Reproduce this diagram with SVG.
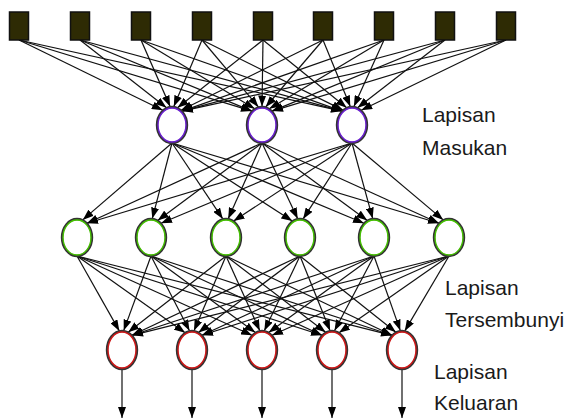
<svg xmlns="http://www.w3.org/2000/svg" width="570" height="420" viewBox="0 0 570 420">
<style>
.sq{fill:#2e2b04;stroke:#111;stroke-width:1.5}
.ring{fill:#fff;stroke:#333;stroke-width:2.4}
.in{fill:none;stroke:#6a1fd0;stroke-width:1.4}
.hid{fill:none;stroke:#44c000;stroke-width:1.4}
.out{fill:none;stroke:#d01818;stroke-width:1.4}
#edges line{stroke:#111;stroke-width:1.2;marker-end:url(#ah)}
.lbl{font-family:"Liberation Sans",Arial,sans-serif;font-size:21px;fill:#1a1a1a}
</style>
<defs>
<marker id="ah" markerUnits="userSpaceOnUse" markerWidth="11" markerHeight="8" refX="11" refY="4" orient="auto">
<path d="M0,0 L11,4 L0,8 z" fill="#000"/>
</marker>
</defs>
<rect width="570" height="420" fill="#fff"/>
<g id="edges">
<line x1="19" y1="40" x2="162.8" y2="110.3"/>
<line x1="80" y1="40" x2="166.5" y2="107.8"/>
<line x1="141" y1="40" x2="170.1" y2="106.6"/>
<line x1="202" y1="40" x2="173.8" y2="106.6"/>
<line x1="263" y1="40" x2="177.5" y2="107.8"/>
<line x1="323" y1="40" x2="181.1" y2="110.2"/>
<line x1="384" y1="40" x2="182" y2="111.1"/>
<line x1="445" y1="40" x2="182" y2="111.1"/>
<line x1="506" y1="40" x2="182" y2="111.1"/>
<line x1="19" y1="40" x2="252" y2="111.1"/>
<line x1="80" y1="40" x2="252" y2="111.1"/>
<line x1="141" y1="40" x2="254.7" y2="108.8"/>
<line x1="202" y1="40" x2="258.4" y2="107"/>
<line x1="263" y1="40" x2="262" y2="106.5"/>
<line x1="323" y1="40" x2="265.7" y2="107"/>
<line x1="384" y1="40" x2="269.3" y2="108.8"/>
<line x1="445" y1="40" x2="272" y2="111.1"/>
<line x1="506" y1="40" x2="272" y2="111.1"/>
<line x1="19" y1="40" x2="342" y2="111.1"/>
<line x1="80" y1="40" x2="342" y2="111.1"/>
<line x1="141" y1="40" x2="342" y2="111.1"/>
<line x1="202" y1="40" x2="343" y2="110.1"/>
<line x1="263" y1="40" x2="346.7" y2="107.7"/>
<line x1="323" y1="40" x2="350.3" y2="106.6"/>
<line x1="384" y1="40" x2="353.9" y2="106.6"/>
<line x1="445" y1="40" x2="357.6" y2="107.8"/>
<line x1="506" y1="40" x2="361.2" y2="110.3"/>
<line x1="172" y1="143" x2="82.7" y2="219.9"/>
<line x1="172" y1="143" x2="152.3" y2="218.6"/>
<line x1="172" y1="143" x2="222.8" y2="218.9"/>
<line x1="172" y1="143" x2="292.3" y2="221.1"/>
<line x1="172" y1="143" x2="364" y2="223.2"/>
<line x1="172" y1="143" x2="439" y2="223.2"/>
<line x1="262" y1="143" x2="87" y2="223.2"/>
<line x1="262" y1="143" x2="157.7" y2="220.4"/>
<line x1="262" y1="143" x2="228.2" y2="218.7"/>
<line x1="262" y1="143" x2="297.7" y2="218.7"/>
<line x1="262" y1="143" x2="367.3" y2="220.4"/>
<line x1="262" y1="143" x2="439" y2="223.2"/>
<line x1="352" y1="143" x2="87" y2="223.2"/>
<line x1="352" y1="143" x2="161" y2="223.2"/>
<line x1="352" y1="143" x2="233.6" y2="221.1"/>
<line x1="352" y1="143" x2="303.1" y2="218.9"/>
<line x1="352" y1="143" x2="372.7" y2="218.6"/>
<line x1="352" y1="143" x2="443.2" y2="219.9"/>
<line x1="77" y1="256" x2="119.3" y2="330.9"/>
<line x1="77" y1="256" x2="185.1" y2="332.7"/>
<line x1="77" y1="256" x2="252" y2="335.3"/>
<line x1="77" y1="256" x2="322" y2="335.3"/>
<line x1="77" y1="256" x2="392" y2="335.3"/>
<line x1="151" y1="256" x2="123.7" y2="330.6"/>
<line x1="151" y1="256" x2="189.5" y2="330.8"/>
<line x1="151" y1="256" x2="255.3" y2="332.5"/>
<line x1="151" y1="256" x2="322" y2="335.3"/>
<line x1="151" y1="256" x2="392" y2="335.3"/>
<line x1="226" y1="256" x2="128.2" y2="332.2"/>
<line x1="226" y1="256" x2="194" y2="330.7"/>
<line x1="226" y1="256" x2="259.8" y2="330.7"/>
<line x1="226" y1="256" x2="325.6" y2="332.3"/>
<line x1="226" y1="256" x2="392" y2="335.3"/>
<line x1="300" y1="256" x2="132" y2="335.3"/>
<line x1="300" y1="256" x2="198.5" y2="332.4"/>
<line x1="300" y1="256" x2="264.3" y2="330.8"/>
<line x1="300" y1="256" x2="330.1" y2="330.7"/>
<line x1="300" y1="256" x2="395.9" y2="332.2"/>
<line x1="374" y1="256" x2="132" y2="335.3"/>
<line x1="374" y1="256" x2="202" y2="335.3"/>
<line x1="374" y1="256" x2="268.7" y2="332.5"/>
<line x1="374" y1="256" x2="334.5" y2="330.8"/>
<line x1="374" y1="256" x2="400.3" y2="330.6"/>
<line x1="449" y1="256" x2="132" y2="335.3"/>
<line x1="449" y1="256" x2="202" y2="335.3"/>
<line x1="449" y1="256" x2="272" y2="335.3"/>
<line x1="449" y1="256" x2="339" y2="332.7"/>
<line x1="449" y1="256" x2="404.8" y2="330.9"/>
<line x1="122" y1="369" x2="122" y2="418"/>
<line x1="192" y1="369" x2="192" y2="418"/>
<line x1="262" y1="369" x2="262" y2="418"/>
<line x1="332" y1="369" x2="332" y2="418"/>
<line x1="402" y1="369" x2="402" y2="418"/>
</g>
<g id="src1"><rect class="sq" x="9.5" y="12" width="19" height="28"/></g>
<g id="src2"><rect class="sq" x="70.5" y="12" width="19" height="28"/></g>
<g id="src3"><rect class="sq" x="131.5" y="12" width="19" height="28"/></g>
<g id="src4"><rect class="sq" x="192.5" y="12" width="19" height="28"/></g>
<g id="src5"><rect class="sq" x="253.5" y="12" width="19" height="28"/></g>
<g id="src6"><rect class="sq" x="313.5" y="12" width="19" height="28"/></g>
<g id="src7"><rect class="sq" x="374.5" y="12" width="19" height="28"/></g>
<g id="src8"><rect class="sq" x="435.5" y="12" width="19" height="28"/></g>
<g id="src9"><rect class="sq" x="496.5" y="12" width="19" height="28"/></g>
<g id="in1"><ellipse class="ring" cx="172" cy="125" rx="15" ry="18"/><ellipse class="in" cx="172" cy="125" rx="14" ry="17"/></g>
<g id="in2"><ellipse class="ring" cx="262" cy="125" rx="15" ry="18"/><ellipse class="in" cx="262" cy="125" rx="14" ry="17"/></g>
<g id="in3"><ellipse class="ring" cx="352" cy="125" rx="15" ry="18"/><ellipse class="in" cx="352" cy="125" rx="14" ry="17"/></g>
<g id="hid1"><ellipse class="ring" cx="77" cy="237.5" rx="15" ry="18.5"/><ellipse class="hid" cx="77" cy="237.5" rx="14" ry="17.5"/></g>
<g id="hid2"><ellipse class="ring" cx="151" cy="237.5" rx="15" ry="18.5"/><ellipse class="hid" cx="151" cy="237.5" rx="14" ry="17.5"/></g>
<g id="hid3"><ellipse class="ring" cx="226" cy="237.5" rx="15" ry="18.5"/><ellipse class="hid" cx="226" cy="237.5" rx="14" ry="17.5"/></g>
<g id="hid4"><ellipse class="ring" cx="300" cy="237.5" rx="15" ry="18.5"/><ellipse class="hid" cx="300" cy="237.5" rx="14" ry="17.5"/></g>
<g id="hid5"><ellipse class="ring" cx="374" cy="237.5" rx="15" ry="18.5"/><ellipse class="hid" cx="374" cy="237.5" rx="14" ry="17.5"/></g>
<g id="hid6"><ellipse class="ring" cx="449" cy="237.5" rx="15" ry="18.5"/><ellipse class="hid" cx="449" cy="237.5" rx="14" ry="17.5"/></g>
<g id="out1"><ellipse class="ring" cx="122" cy="350" rx="15" ry="19"/><ellipse class="out" cx="122" cy="350" rx="14" ry="18"/></g>
<g id="out2"><ellipse class="ring" cx="192" cy="350" rx="15" ry="19"/><ellipse class="out" cx="192" cy="350" rx="14" ry="18"/></g>
<g id="out3"><ellipse class="ring" cx="262" cy="350" rx="15" ry="19"/><ellipse class="out" cx="262" cy="350" rx="14" ry="18"/></g>
<g id="out4"><ellipse class="ring" cx="332" cy="350" rx="15" ry="19"/><ellipse class="out" cx="332" cy="350" rx="14" ry="18"/></g>
<g id="out5"><ellipse class="ring" cx="402" cy="350" rx="15" ry="19"/><ellipse class="out" cx="402" cy="350" rx="14" ry="18"/></g>
<g id="labels">
<text class="lbl" x="422" y="122">Lapisan</text>
<text class="lbl" x="422" y="155">Masukan</text>
<text class="lbl" x="445" y="295">Lapisan</text>
<text class="lbl" x="445" y="327">Tersembunyi</text>
<text class="lbl" x="434" y="379">Lapisan</text>
<text class="lbl" x="434" y="410">Keluaran</text>
</g>
</svg>
